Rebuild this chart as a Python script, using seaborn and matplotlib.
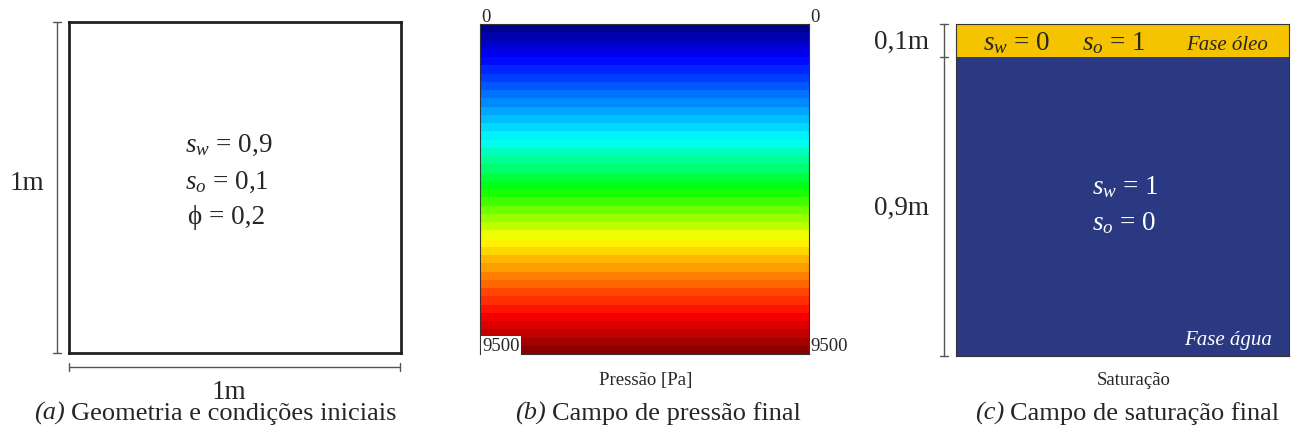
"""
Recreate the three-panel reservoir figure: geometry, final pressure, final saturation.
"""
import numpy as np
import matplotlib
matplotlib.use("Agg")
import matplotlib.pyplot as plt
import matplotlib.transforms as mtransforms
from matplotlib.colors import ListedColormap, LinearSegmentedColormap
from matplotlib.lines import Line2D
import seaborn as sns

sns.set_theme(style="white")
plt.rcParams["font.family"] = ["Liberation Serif", "DejaVu Serif"]
plt.rcParams["mathtext.fontset"] = "custom"
plt.rcParams["mathtext.rm"] = "Liberation Serif"
plt.rcParams["mathtext.it"] = "Liberation Serif:italic"

# ---- data ----
init_sw, init_so, init_phi = "0,9", "0,1", "0,2"
# pressure per cell row, top to bottom [Pa]
pressure_rows = [119, 356, 594, 831, 1069, 1306, 1544, 1781, 2019, 2256,
                 2494, 2731, 2969, 3206, 3444, 3681, 3919, 4156, 4394, 4631,
                 4869, 5106, 5344, 5581, 5819, 6056, 6294, 6531, 6769, 7006,
                 7244, 7481, 7719, 7956, 8194, 8431, 8669, 8906, 9144, 9381]
p_min, p_max = 0, 9500
# water saturation per 0.1 m row, top to bottom
sw_rows = [0, 1, 1, 1, 1, 1, 1, 1, 1, 1]

oil_color = "#F5C300"
water_color = "#2A3982"
dim_color = "#555555"
rainbow = LinearSegmentedColormap.from_list("rainbow_p", [
    (0.0, (0.0, 0.0, 0.5)), (0.1, (0.0, 0.0, 1.0)), (0.35, (0.0, 1.0, 1.0)),
    (0.5, (0.0, 1.0, 0.0)), (0.65, (1.0, 1.0, 0.0)), (0.88, (1.0, 0.0, 0.0)),
    (1.0, (0.5, 0.0, 0.0))])

BIG, CAP, MID, SMALL = 19.5, 19, 15, 13.5

W, H = 1293, 435
fig = plt.figure(figsize=(W / 100, H / 100), dpi=100)


def px(x, y):
    return x / W, 1 - y / H


def add_ax(x0, y0, x1, y1):
    return fig.add_axes([x0 / W, 1 - y1 / H, (x1 - x0) / W, (y1 - y0) / H])


def ftext(x, y, s, **kw):
    fig.text(*px(x, y), s, **kw)


def fline(xs, ys, **kw):
    fig.add_artist(Line2D([x / W for x in xs], [1 - y / H for y in ys],
                          transform=fig.transFigure, color=dim_color, lw=1, **kw))


# ---- (a) geometry ----
ax_a = add_ax(69, 23, 401, 354)
ax_a.set_xticks([])
ax_a.set_yticks([])
for sp in ax_a.spines.values():
    sp.set_visible(True)
    sp.set_color("#222222")
    sp.set_linewidth(2)

ftext(185, 145, rf"$s_w$ = {init_sw}", fontsize=BIG, va="center")
ftext(185, 182, rf"$s_o$ = {init_so}", fontsize=BIG, va="center")
ftext(188, 218, f"ϕ = {init_phi}", fontsize=BIG, va="center")

fline([57, 57], [23, 354])
fline([53, 61], [23, 23])
fline([53, 61], [354, 354])
fline([69, 400], [368, 368])
fline([69, 69], [364, 372])
fline([400, 400], [364, 372])
ftext(27, 184, "1m", fontsize=BIG, ha="center", va="center")
ftext(229, 393, "1m", fontsize=BIG, ha="center", va="center")

# ---- (b) pressure ----
ax_b = add_ax(480, 25, 809, 355)
sns.heatmap(np.array(pressure_rows).reshape(-1, 1), cmap=rainbow,
            vmin=p_min, vmax=p_max, cbar=False, ax=ax_b,
            xticklabels=False, yticklabels=False)
for sp in ax_b.spines.values():
    sp.set_visible(True)
    sp.set_color("#333333")
    sp.set_linewidth(0.8)
ftext(481, 17, f"{p_min}", fontsize=SMALL, ha="left", va="center")
ftext(810, 17, f"{p_min}", fontsize=SMALL, ha="left", va="center")
ftext(482, 347, f"{p_max}", fontsize=SMALL, ha="left", va="center",
      bbox=dict(facecolor="white", edgecolor="none", pad=1.0))
ftext(810, 347, f"{p_max}", fontsize=SMALL, ha="left", va="center")
ftext(646, 381, "Pressão [Pa]", fontsize=SMALL, ha="center", va="center")

# ---- (c) saturation ----
ax_c = add_ax(956, 25, 1289, 357)
sns.heatmap(np.array(sw_rows).reshape(-1, 1),
            cmap=ListedColormap([oil_color, water_color]),
            vmin=0, vmax=1, cbar=False, ax=ax_c,
            xticklabels=False, yticklabels=False)
for sp in ax_c.spines.values():
    sp.set_visible(True)
    sp.set_color("#333333")
    sp.set_linewidth(0.8)

n_oil = sw_rows.count(0)
bt = mtransforms.blended_transform_factory(fig.transFigure, ax_c.transData)
for yy in [0, n_oil, len(sw_rows)]:
    fig.add_artist(Line2D([940 / W, 948 / W], [yy, yy], transform=bt,
                          color=dim_color, lw=1))
fig.add_artist(Line2D([944 / W, 944 / W], [0, len(sw_rows)], transform=bt,
                      color=dim_color, lw=1))
ftext(929, 42, f"0,{n_oil}m", fontsize=BIG, ha="right", va="center")
ftext(929, 208, f"0,{len(sw_rows) - n_oil}m", fontsize=BIG, ha="right", va="center")

ftext(983, 43, r"$s_w$ = 0", fontsize=BIG, va="center")
ftext(1082, 43, r"$s_o$ = 1", fontsize=BIG, va="center")
ftext(1268, 46, "Fase óleo", fontsize=MID, style="italic", ha="right", va="center")
ftext(1092, 187, r"$s_w$ = 1", fontsize=BIG, va="center", color="white")
ftext(1092, 223, r"$s_o$ = 0", fontsize=BIG, va="center", color="white")
ftext(1272, 340, "Fase água", fontsize=MID, style="italic", ha="right",
      va="center", color="white")
ftext(1134, 381, "Saturação", fontsize=SMALL, ha="center", va="center")

# ---- captions ----
for x_lbl, x_txt, lbl, txt in [(65, 71, "(a)", "Geometria e condições iniciais"),
                               (546, 552, "(b)", "Campo de pressão final"),
                               (1004, 1010, "(c)", "Campo de saturação final")]:
    ftext(x_lbl, 420, lbl, fontsize=CAP, style="italic", ha="right", va="baseline")
    ftext(x_txt, 420, txt, fontsize=CAP, ha="left", va="baseline")

fig.savefig("out.png", dpi=100)
